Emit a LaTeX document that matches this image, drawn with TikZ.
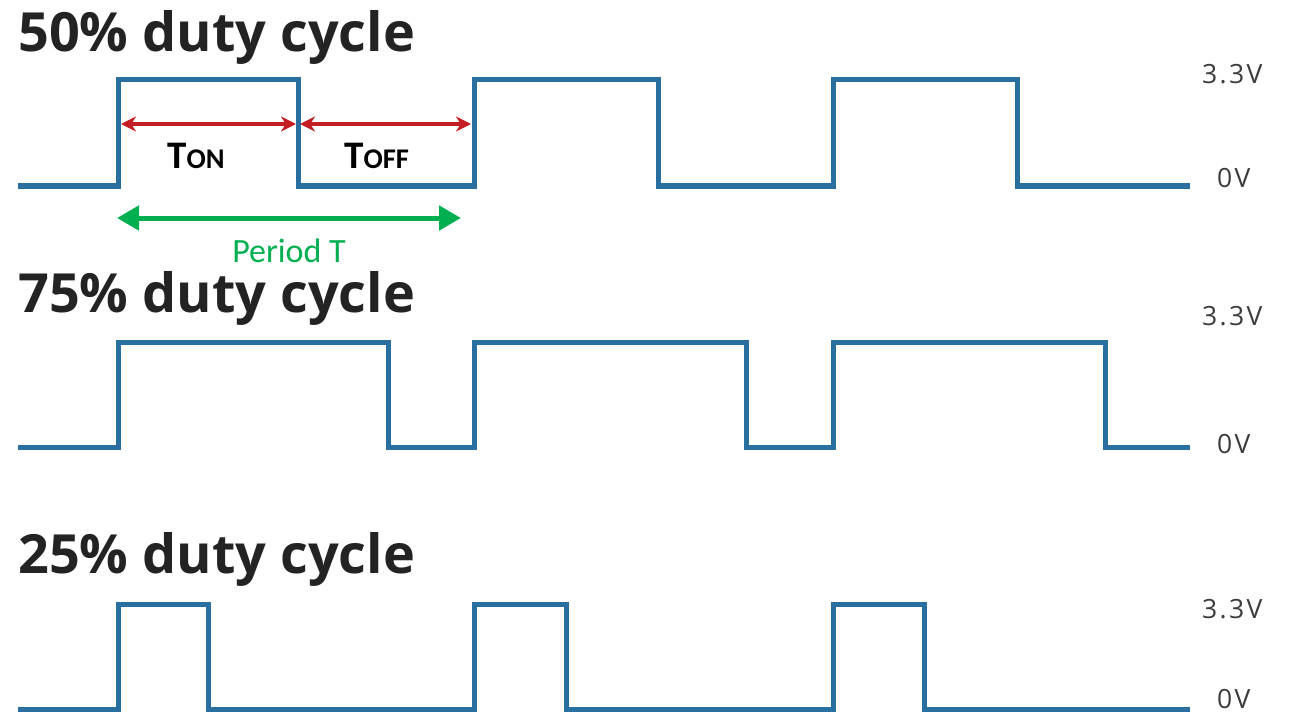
\documentclass[tikz,border=0pt]{standalone}
\usepackage{fontspec}
\setmainfont{Open Sans}
\newfontfamily\calib{Carlito}
\newfontfamily\voltfont[LetterSpace=9]{Open Sans}
\usetikzlibrary{arrows.meta}
\definecolor{wave}{RGB}{41,111,160}
\definecolor{redarr}{RGB}{196,30,36}
\definecolor{grn}{RGB}{0,176,80}
\definecolor{lbl}{RGB}{60,60,60}
\definecolor{ttl}{RGB}{35,35,35}
\tikzset{
  wavepath/.style={draw=wave,line width=5pt,line join=miter,line cap=butt},
  title/.style={anchor=base west,inner sep=0pt,text=ttl,font=\fontsize{54}{58}\selectfont\bfseries},
  volt/.style={anchor=base west,inner sep=0pt,text=lbl,font=\voltfont\fontsize{26.5}{30}\selectfont},
  tarrow/.style={draw=redarr,line width=3.5pt,{Stealth[length=15pt,width=15pt]}-{Stealth[length=15pt,width=15pt]}},
  parrow/.style={draw=grn,line width=5pt,{Triangle[length=22pt,width=24pt]}-{Triangle[length=22pt,width=24pt]}},
  tlabel/.style={anchor=base west,inner sep=0pt,text=black,font=\calib\bfseries},
  plabel/.style={anchor=base,inner sep=0pt,text=grn,font=\calib\fontsize{34}{37}\selectfont}
}
\begin{document}
\begin{tikzpicture}[x=1pt,y=-1pt]
\useasboundingbox (0,0) rectangle (1289,714);
\fill[white] (0,0) rectangle (1289,714);
% titles
\node[title] (t50) at (18,52) {50\% duty cycle};
\node[title] (t75) at (18,312) {75\% duty cycle};
\node[title] (t25) at (18,573) {25\% duty cycle};
% waveform 50%
\draw[wavepath] (18,186) -- (118,186) -- (118,80) -- (298,80) -- (298,186) -- (474,186) -- (474,80) -- (658,80) -- (658,186) -- (833,186) -- (833,80) -- (1017,80) -- (1017,186) -- (1190,186);
% waveform 75%
\draw[wavepath] (18,447) -- (118,447) -- (118,342) -- (388,342) -- (388,447) -- (474,447) -- (474,342) -- (746,342) -- (746,447) -- (833,447) -- (833,342) -- (1105,342) -- (1105,447) -- (1190,447);
% waveform 25%
\draw[wavepath] (18,709) -- (118,709) -- (118,604) -- (208,604) -- (208,709) -- (474,709) -- (474,604) -- (566,604) -- (566,709) -- (833,709) -- (833,604) -- (924,604) -- (924,709) -- (1190,709);
% voltage labels
\node[volt] (v1h) at (1202,84) {3.3V};
\node[volt] (v1l) at (1217,188) {0V};
\node[volt] (v2h) at (1202,325) {3.3V};
\node[volt] (v2l) at (1217,453) {0V};
\node[volt] (v3h) at (1202,618) {3.3V};
\node[volt] (v3l) at (1217,708) {0V};
% T_on / T_off arrows
\coordinate (a1) at (121,124);
\coordinate (a2) at (296,124);
\coordinate (a3) at (300,124);
\coordinate (a4) at (471,124);
\draw[tarrow] (a1) -- (a2);
\draw[tarrow] (a3) -- (a4);
\node[tlabel] (ton) at (167,168) {{\fontsize{39}{42}\selectfont T}{\fontsize{28.5}{31}\selectfont ON}};
\node[tlabel] (toff) at (344,168) {{\fontsize{39}{42}\selectfont T}{\fontsize{28.5}{31}\selectfont OFF}};
% period arrow
\coordinate (p1) at (117,218);
\coordinate (p2) at (461,218);
\draw[parrow] (p1) -- (p2);
\node[plabel] (per) at (289,262) {Period T};
\end{tikzpicture}
\end{document}
